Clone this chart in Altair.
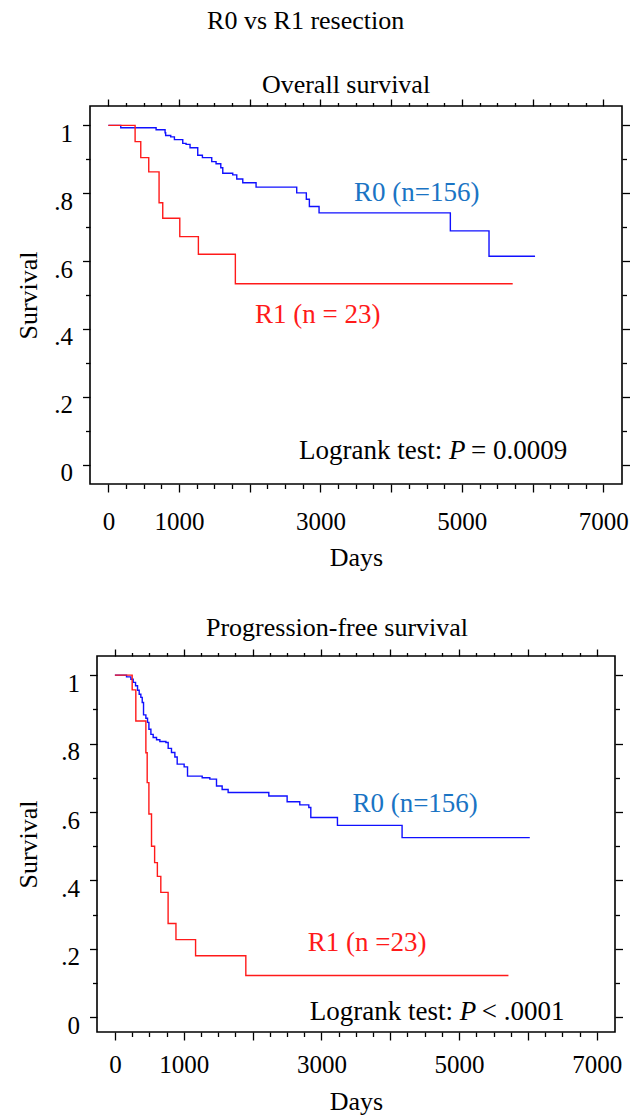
import altair as alt
import pandas as pd

FONT = "Liberation Serif"
BLUE = "#1010ff"
RED = "#ff1a1a"
LABEL_BLUE = "#1a74c4"

# Kaplan-Meier step points, overall survival
os_r0_days = [0, 175, 675, 802, 810, 882, 934, 1052, 1099, 1155, 1264, 1330, 1462, 1523,
              1590, 1618, 1759, 1816, 1901, 2089, 2664, 2800, 2843, 2980, 4837, 5384, 6035]
os_r0_surv = [1.0, 0.993, 0.987, 0.978, 0.970, 0.966, 0.958, 0.947, 0.944, 0.934, 0.912, 0.905,
              0.893, 0.887, 0.875, 0.859, 0.854, 0.842, 0.831, 0.818, 0.801, 0.782, 0.761,
              0.742, 0.689, 0.614, 0.614]
os_r1_days = [0, 378, 458, 571, 717, 769, 1010, 1273, 1796, 5719]
os_r1_surv = [1.0, 0.952, 0.905, 0.863, 0.772, 0.726, 0.672, 0.620, 0.533, 0.533]

# Kaplan-Meier step points, progression-free survival
pfs_r0_days = [0, 169, 232, 266, 300, 329, 353, 377, 397, 416, 450, 474, 494, 523, 556, 605,
               653, 741, 774, 822, 871, 905, 1006, 1055, 1268, 1379, 1476, 1558, 1645, 2236,
               2502, 2686, 2817, 2846, 3233, 4172, 6027]
pfs_r0_surv = [1.0, 0.995, 0.988, 0.979, 0.969, 0.956, 0.944, 0.935, 0.920, 0.884, 0.874,
               0.862, 0.842, 0.827, 0.818, 0.811, 0.806, 0.803, 0.786, 0.774, 0.761, 0.740,
               0.732, 0.705, 0.700, 0.696, 0.676, 0.666, 0.657, 0.647, 0.630, 0.621, 0.613,
               0.584, 0.561, 0.525, 0.525]
pfs_r1_days = [0, 251, 304, 450, 469, 494, 532, 577, 617, 667, 773, 887, 1172, 1902, 5717]
pfs_r1_surv = [1.0, 0.957, 0.866, 0.773, 0.686, 0.594, 0.500, 0.452, 0.412, 0.365, 0.274,
               0.227, 0.180, 0.122, 0.122]

# Curve labels and test results (anchor day, anchor survival, text)
os_labels = [(3475, 0.777, "R0 (n=156)"), (2075, 0.4175, "R1 (n = 23)")]
pfs_labels = [(3450, 0.601, "R0 (n=156)"), (2803, 0.194, "R1 (n =23)")]
os_test = (2697, 0.016, "= 0.0009")
pfs_test = (2830, -0.008, "< .0001")

X_DOMAIN = [-260, 7265]
OS_Y_DOMAIN = [-0.057, 1.057]
PFS_Y_DOMAIN = [-0.043, 1.056]
x_ticks = list(range(0, 7001, 250))
y_ticks = [round(i / 10, 1) for i in range(11)]
x_labelled = [0, 1000, 3000, 5000, 7000]

X_MAJOR = "datum.value % 1000 === 0"
Y_MAJOR = "round(datum.value * 10) % 2 === 0"
NOTE_SIZE = 27


def x_scale():
    return alt.Scale(domain=X_DOMAIN, nice=False, zero=False)


def curve(days, surv, color, main_axes, ydom, pads):
    df = pd.DataFrame({"days": days, "surv": surv})
    if main_axes:
        xa = alt.Axis(
            values=x_ticks, title="Days", orient="bottom", domain=False,
            tickSize={"condition": {"test": X_MAJOR, "value": 8}, "value": 4.5},
            labelExpr="indexof(" + str(x_labelled) + ", datum.value) >= 0 ? format(datum.value, 'd') : ''",
            labelOverlap=False, labelPadding=pads["xlabel"], titlePadding=pads["xtitle"],
            labelFlush=False,
        )
        ya = alt.Axis(
            values=y_ticks, title="Survival", orient="left", domain=False,
            tickSize={"condition": {"test": Y_MAJOR, "value": 7.5}, "value": 4.5},
            labelExpr="round(datum.value * 10) % 2 !== 0 ? '' : datum.value >= 1 ? '1' : "
                      "datum.value <= 0 ? '0' : replace(format(datum.value, '.1f'), '0.', '.')",
            labelOverlap=False, labelPadding=10, labelOffset=8, titlePadding=pads["ytitle"],
            labelFlush=False,
        )
    else:
        xa = alt.Axis(
            values=x_ticks, title=None, orient="top", domain=False, labels=False,
            tickSize={"condition": {"test": X_MAJOR, "value": 7}, "value": 3.5},
        )
        ya = alt.Axis(
            values=y_ticks, title=None, orient="right", domain=False, labels=False,
            tickSize={"condition": {"test": Y_MAJOR, "value": 7.5}, "value": 4.5},
        )
    return alt.Chart(df).mark_line(
        interpolate="step-after", color=color, strokeWidth=1.4
    ).encode(
        x=alt.X("days:Q", scale=x_scale(), axis=xa),
        y=alt.Y("surv:Q", scale=alt.Scale(domain=ydom, nice=False, zero=False), axis=ya),
    )


def label_layer(items, colors, ydom):
    df = pd.DataFrame(
        {"days": [i[0] for i in items], "surv": [i[1] for i in items],
         "text": [i[2] for i in items], "col": colors}
    )
    return alt.Chart(df).mark_text(
        align="left", baseline="alphabetic", font=FONT, fontSize=NOTE_SIZE
    ).encode(
        x=alt.X("days:Q", scale=x_scale(), axis=None),
        y=alt.Y("surv:Q", scale=alt.Scale(domain=ydom, nice=False, zero=False), axis=None),
        text="text:N",
        color=alt.Color("col:N", scale=None),
    )


def test_layers(test, ydom):
    df = pd.DataFrame({"days": [test[0]], "surv": [test[1]], "rest": [test[2]]})
    base = alt.Chart(df).encode(
        x=alt.X("days:Q", scale=x_scale(), axis=None),
        y=alt.Y("surv:Q", scale=alt.Scale(domain=ydom, nice=False, zero=False), axis=None),
    )
    opts = dict(align="left", baseline="alphabetic", font=FONT, fontSize=NOTE_SIZE, color="black")
    head = base.mark_text(text="Logrank test:", **opts)
    p = base.mark_text(text="P", fontStyle="italic", dx=150, **opts)
    tail = base.mark_text(dx=172, **opts).encode(text="rest:N")
    return [head, p, tail]


def panel(title, r0, r1, labels, test, width, height, ydom, pads, title_dx, title_offset):
    layers = [
        curve(r0[0], r0[1], BLUE, True, ydom, pads),
        curve(r1[0], r1[1], RED, False, ydom, pads),
        label_layer(labels, [LABEL_BLUE, RED], ydom),
    ] + test_layers(test, ydom)
    return alt.layer(*layers).resolve_axis(x="independent", y="independent").properties(
        width=width, height=height,
        title=alt.TitleParams(title, font=FONT, fontSize=26, fontWeight="normal",
                              anchor="middle", frame="group", dx=title_dx,
                              offset=title_offset, color="black"),
    )


top = panel("Overall survival", (os_r0_days, os_r0_surv), (os_r1_days, os_r1_surv),
            os_labels, os_test, 532, 378, OS_Y_DOMAIN,
            {"xlabel": 17, "xtitle": 10, "ytitle": 12}, -10, 0)
bottom = panel("Progression-free survival", (pfs_r0_days, pfs_r0_surv),
               (pfs_r1_days, pfs_r1_surv), pfs_labels, pfs_test, 518, 376, PFS_Y_DOMAIN,
               {"xlabel": 12, "xtitle": 11, "ytitle": 19.5}, -19, 7)

chart = alt.vconcat(top, bottom, spacing=172, center=True, bounds="flush").properties(
    title=alt.TitleParams("R0 vs R1 resection", font=FONT, fontSize=26, fontWeight="normal",
                          anchor="middle", color="black", offset=38, dx=-17),
    padding={"left": 14, "top": 7, "right": 5, "bottom": 5},
).configure_view(stroke="black", strokeWidth=1.6).configure_axis(
    labelFont=FONT, labelFontSize=25, labelColor="black",
    titleFont=FONT, titleFontSize=26, titleFontWeight="normal", titleColor="black",
    tickColor="black", tickWidth=1.3, grid=False,
)

chart.save("out.html", embed_options={"renderer": "svg", "actions": False})
